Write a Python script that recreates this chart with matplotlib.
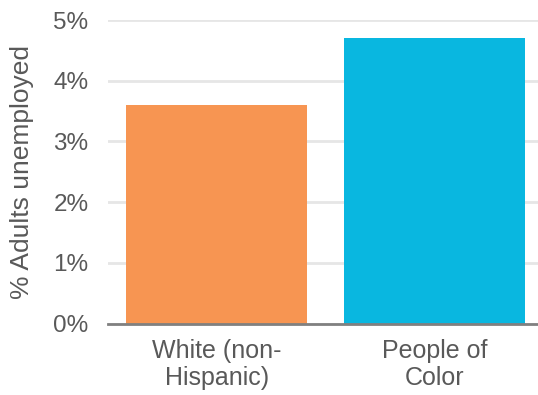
import matplotlib.pyplot as plt
from matplotlib.ticker import FuncFormatter

# Unemployment rate by group
groups = ["White (non-\nHispanic)", "People of\nColor"]
rates = [3.6, 4.7]
colors = ["#F79552", "#09B7E0"]
yticks = [0, 1, 2, 3, 4, 5]

plt.rcParams["font.family"] = ["Liberation Sans", "DejaVu Sans"]
text_color = "#595959"

fig = plt.figure(figsize=(5.38, 3.95), dpi=100)
ax = fig.add_axes([0.2007, 0.181, 0.81, 0.768])

ax.bar(range(len(groups)), rates, width=0.83, color=colors, zorder=3)

ax.set_xlim(-0.5, 1.5)
ax.set_ylim(0, 5)
ax.set_yticks(yticks)
ax.yaxis.set_major_formatter(FuncFormatter(lambda v, p: f"{v:.0f}%"))
ax.set_xticks(range(len(groups)))
ax.set_xticklabels(groups, linespacing=1.15, fontsize=18)

ax.grid(axis="y", color="#E6E6E6", linewidth=2, zorder=0)
for s in ["top", "right", "left"]:
    ax.spines[s].set_visible(False)
ax.spines["bottom"].set_color("#808080")
ax.spines["bottom"].set_linewidth(2)
ax.spines["bottom"].set_zorder(4)

ax.tick_params(axis="both", length=0, labelcolor=text_color)
ax.tick_params(axis="y", pad=14, labelsize=17.5)
ax.tick_params(axis="x", pad=11)
ax.set_ylabel("% Adults unemployed", fontsize=19, color=text_color)
ax.yaxis.set_label_coords(-0.17, 0.5)

fig.savefig("out.png", dpi=100)
